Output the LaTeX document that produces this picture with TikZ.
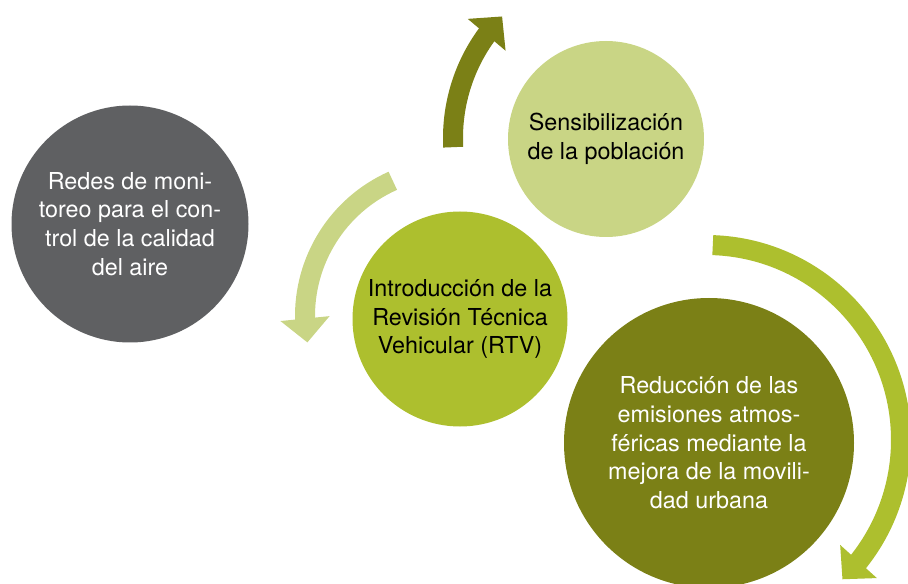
\documentclass[tikz,border=0pt]{standalone}
\usepackage{fontspec}
\setmainfont{TeX Gyre Heros}
\usetikzlibrary{arrows.meta,bending,calc}
\definecolor{gris}{RGB}{95,96,98}
\definecolor{lima}{RGB}{173,191,46}
\definecolor{claro}{RGB}{201,213,133}
\definecolor{oliva}{RGB}{123,128,22}

\tikzset{
  circulo/.style={circle,inner sep=0pt,align=center,
    font=\fontsize{17.5}{21.5}\selectfont},
  flecha/.style={line width=15pt,-{Triangle[width=36pt,length=18pt]}},
}

\begin{document}
\begin{tikzpicture}[x=0.75pt,y=0.75pt]
    \useasboundingbox (0,0) rectangle (908,583);
    \clip (0,0) rectangle (908,583);
    % circulos
    \node[circulo,fill=gris,text=white,minimum size=177.75pt] (redes) at (130,359)
        {Redes de moni-\\toreo para el con-\\trol de la calidad\\del aire};
    \node[circulo,fill=lima,text=black,minimum size=161.25pt] (rtv) at (460,264)
        {Introducción de la\\Revisión Técnica\\Vehicular (RTV)};
    \node[circulo,fill=claro,text=black,minimum size=147pt] (sensib) at (606,444)
        {Sensibilización\\de la población};
    \node[circulo,fill=oliva,text=white,minimum size=217.5pt] (reduccion) at (709,140)
        {Reducción de las\\emisiones atmos-\\féricas mediante la\\mejora de la movili-\\dad urbana};
    % flechas curvas
    \coordinate (ejeA) at (453,267);
    \coordinate (ejeB) at (628,445);
    \coordinate (ejeC) at (706,143);
    \draw[flecha,claro] ($(ejeA)+(114:148)$) arc[start angle=114,end angle=190.3,radius=148];
    \draw[flecha,oliva] ($(ejeB)+(183:175)$) arc[start angle=183,end angle=136,radius=175];
    \draw[flecha,lima] ($(ejeC)+(88:195)$) arc[start angle=88,end angle=-45.6,radius=195];
\end{tikzpicture}
\end{document}
